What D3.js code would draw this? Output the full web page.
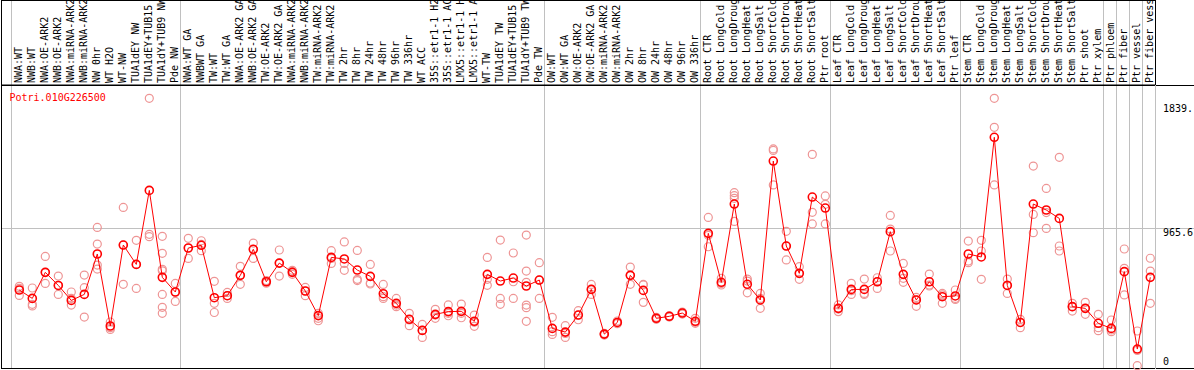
<!DOCTYPE html>
<html>
<head>
<meta charset="utf-8">
<script src="https://cdn.jsdelivr.net/npm/d3@7"></script>
<style>
  body { margin: 0; background: white; }
  text { font-family: "DejaVu Sans Mono", monospace; font-size: 10px; }
</style>
</head>
<body>
<div id="chart"></div>
<script>
const geneName = "Potri.010G226500";

const categories = [
  "NWA:WT", "NWB:WT", "NWA:OE-ARK2", "NWB:OE-ARK2", "NWA:miRNA-ARK2", "NWB:miRNA-ARK2",
  "NW 0hr", "WT H2O", "WT-NW", "TUA1dEY NW", "TUA1dEY+TUB15 NW", "TUA1dY+TUB9 NW", "Pde NW",
  "NWA:WT GA", "NWBWT GA", "TW:WT", "TW:WT GA", "NWA:OE-ARK2 GA", "NWB:OE-ARK2 GA",
  "TW:OE-ARK2", "TW:OE-ARK2 GA", "NWA:miRNA-ARK2 GA", "NWB:miRNA-ARK2 GA", "TW:miRNA-ARK2",
  "TW:miRNA-ARK2 GA", "TW 2hr", "TW 8hr", "TW 24hr", "TW 48hr", "TW 96hr", "TW 336hr",
  "WT ACC", "35S::etr1-1 H2O", "35S::etr1-1 ACC", "LMX5::etr1-1 H2O", "LMX5::etr1-1 ACC",
  "WT-TW", "TUA1dEY TW", "TUA1dEY+TUB15 TW", "TUA1dY+TUB9 TW", "Pde TW",
  "OW:WT", "OW:WT GA", "OW:OE-ARK2", "OW:OE-ARK2 GA", "OW:miRNA-ARK2", "OW:miRNA-ARK2 GA",
  "OW 2hr", "OW 8hr", "OW 24hr", "OW 48hr", "OW 96hr", "OW 336hr",
  "Root CTR", "Root LongCold", "Root LongDrought", "Root LongHeat", "Root LongSalt",
  "Root ShortCold", "Root ShortDrought", "Root ShortHeat", "Root ShortSalt", "Ptr root",
  "Leaf CTR", "Leaf LongCold", "Leaf LongDrought", "Leaf LongHeat", "Leaf LongSalt",
  "Leaf ShortCold", "Leaf ShortDrought", "Leaf ShortHeat", "Leaf ShortSalt", "Ptr leaf",
  "Stem CTR", "Stem LongCold", "Stem LongDrought", "Stem LongHeat", "Stem LongSalt",
  "Stem ShortCold", "Stem ShortDrought", "Stem ShortHeat", "Stem ShortSalt", "Ptr shoot",
  "Ptr xylem", "Ptr phloem", "Ptr fiber", "Ptr vessel", "Ptr fiber vessel"
];

// first category of each block (grey separators)
const groupStarts = ["NWA:WT", "NWA:WT GA", "OW:WT", "Root CTR", "Leaf CTR", "Stem CTR",
  "Ptr phloem", "Ptr fiber", "Ptr vessel", "Ptr fiber vessel"];

const meanValues = [
  532, 473, 656, 564, 459, 501, 785, 279, 848, 712, 1232, 621, 518,
  827, 846, 478, 492, 635, 818, 590, 721, 656, 525, 352, 761, 750, 672, 628, 506, 438, 326,
  248, 361, 380, 382, 312, 642, 595, 616, 560, 602,
  262, 236, 356, 536, 222, 304, 635, 529, 333, 347, 370, 312,
  930, 586, 1136, 572, 462, 1438, 841, 649, 1185, 1108,
  403, 536, 536, 590, 942, 642, 462, 590, 485, 490,
  785, 764, 1605, 564, 304, 1136, 1094, 1035, 415, 403, 298,
  262, 661, 117, 621
];

const replicates = [
  [558, 544, 494], [546, 431, 420], [768, 656, 578], [630, 564, 501], [518, 473, 426],
  [637, 548, 342], [972, 855, 707, 679], [307, 267, 255], [1112, 848, 572], [881, 712, 543],
  [1879, 923, 907], [909, 790, 677, 667, 501, 410, 368], [578, 518, 452],
  [895, 827, 754], [878, 852, 808], [593, 438, 374], [515, 492, 473], [698, 635, 572],
  [862, 818, 754], [598, 590, 580], [813, 721, 630], [670, 661, 642], [550, 525, 492],
  [368, 333, 316], [808, 719, 754], [870, 719, 670], [810, 607, 598], [712, 581, 574],
  [571, 485, 473], [473, 426, 415], [368, 321, 281], [290, 248, 199], [396, 356, 333],
  [427, 368, 351], [433, 368, 337], [356, 305, 277], [761, 607, 565], [883, 473, 431],
  [792, 590, 473], [918, 665, 586, 426, 408, 312], [724, 602, 473],
  [340, 239, 220], [281, 227, 199], [387, 356, 323], [571, 536, 501], [227, 222, 215],
  [314, 304, 295], [693, 635, 572], [571, 567, 445], [340, 333, 326], [351, 347, 342],
  [377, 370, 363], [333, 305, 298],
  [1042, 916, 836], [614, 577, 567], [1216, 1195, 1176, 1014], [609, 595, 512],
  [508, 473, 403], [1523, 1513, 1270], [944, 841, 743], [696, 649, 607],
  [1485, 1078, 996], [1193, 1134, 996],
  [427, 398, 380], [579, 527, 501], [609, 501, 508], [618, 590, 543], [1056, 960, 806],
  [719, 614, 586], [480, 462, 417], [644, 567, 560], [508, 497, 438], [532, 466, 473],
  [876, 735, 724], [881, 806, 607], [1879, 1675, 1270], [609, 567, 508], [326, 304, 267],
  [1403, 1063, 935], [1246, 1076, 965], [1464, 841, 806], [438, 415, 384], [445, 403, 361],
  [361, 267, 246], [321, 251, 239], [820, 684, 497], [244, 107, 0], [755, 665, 438]
];

const yTicks = [
  { value: 1839, label: "1839." },
  { value: 965.6, label: "965.6" },
  { value: 0, label: "0" }
];

const width = 1194, height = 370;
const headerBottom = 85, plotBottom = 369, plotRight = 1155.5;

const svg = d3.select("#chart").append("svg")
  .attr("width", width)
  .attr("height", height)
  .style("display", "block");

const x = d3.scaleBand()
  .domain(categories)
  .range([10.5, 10.5 + 13 * categories.length])
  .paddingInner(0).paddingOuter(0);
const px = d => x(d) + 8.8;

const y = d3.scaleLinear()
  .domain([0, 1839])
  .range([365.7, 104]);

// separators
svg.selectAll(".vgrid")
  .data(groupStarts)
  .enter().append("line")
  .attr("class", "vgrid")
  .attr("x1", d => Math.round(x(d)) + 0.5)
  .attr("x2", d => Math.round(x(d)) + 0.5)
  .attr("y1", 0)
  .attr("y2", plotBottom)
  .attr("stroke", "#c0c0c0");

svg.append("line")
  .attr("x1", 1).attr("x2", 1194)
  .attr("y1", Math.round(y(965.6)) + 0.5)
  .attr("y2", Math.round(y(965.6)) + 0.5)
  .attr("stroke", "#c0c0c0");

// borders
svg.append("rect")
  .attr("x", 1.5).attr("y", 0.5)
  .attr("width", plotRight - 1.5).attr("height", headerBottom - 0.5)
  .attr("fill", "none").attr("stroke", "black");
svg.append("line")
  .attr("x1", 1).attr("x2", width)
  .attr("y1", headerBottom + 0.5).attr("y2", headerBottom + 0.5)
  .attr("stroke", "black");
svg.append("line")
  .attr("x1", 1).attr("x2", width)
  .attr("y1", plotBottom - 0.5).attr("y2", plotBottom - 0.5)
  .attr("stroke", "black");
svg.append("line")
  .attr("x1", 1.5).attr("x2", 1.5)
  .attr("y1", headerBottom).attr("y2", plotBottom)
  .attr("stroke", "black");
svg.append("line")
  .attr("x1", plotRight).attr("x2", plotRight)
  .attr("y1", headerBottom).attr("y2", plotBottom)
  .attr("stroke", "#c0c0c0");

// header labels
svg.append("clipPath").attr("id", "hdr")
  .append("rect").attr("x", 0).attr("y", 1).attr("width", plotRight).attr("height", headerBottom - 1);

svg.append("g").attr("clip-path", "url(#hdr)")
  .selectAll("text")
  .data(categories)
  .enter().append("text")
  .attr("transform", d => "translate(" + (px(d) + 2.7) + "," + 83 + ") rotate(-90)")
  .attr("fill", "black")
  .text(d => d);

// replicate points
const repData = [];
categories.forEach((c, i) => replicates[i].forEach(v => repData.push({ c: c, v: v })));

svg.append("g").selectAll("circle")
  .data(repData)
  .enter().append("circle")
  .attr("cx", d => px(d.c))
  .attr("cy", d => y(d.v))
  .attr("r", 4)
  .attr("fill", "none")
  .attr("stroke", "#ee9595")
  .attr("stroke-width", 1.2);

// mean line
const line = d3.line()
  .x((d, i) => px(categories[i]))
  .y(d => y(d));

svg.append("path")
  .datum(meanValues)
  .attr("d", line)
  .attr("fill", "none")
  .attr("stroke", "red")
  .attr("stroke-width", 1);

svg.append("g").selectAll("circle")
  .data(meanValues)
  .enter().append("circle")
  .attr("cx", (d, i) => px(categories[i]))
  .attr("cy", d => y(d))
  .attr("r", 4)
  .attr("fill", "none")
  .attr("stroke", "red")
  .attr("stroke-width", 1.6);

// y labels
svg.selectAll(".ylab")
  .data(yTicks)
  .enter().append("text")
  .attr("class", "ylab")
  .attr("x", 1163)
  .attr("y", d => d.value === 0 ? y(d.value) - 0.5 : y(d.value) + 8)
  .attr("fill", "black")
  .text(d => d.label);

svg.append("text")
  .attr("x", 9.5)
  .attr("y", 101)
  .attr("fill", "red")
  .text(geneName);
</script>
</body>
</html>
